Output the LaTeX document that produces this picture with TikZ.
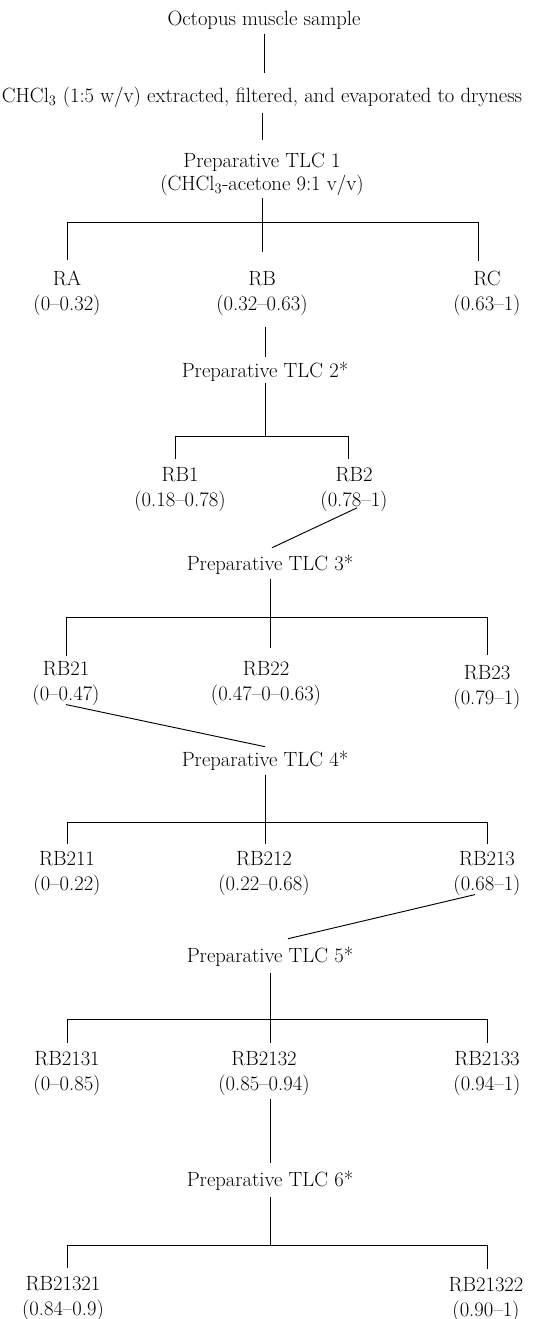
\documentclass[tikz,border=0pt]{standalone}
\usepackage{fontspec}
\usepackage{tikz}
\usetikzlibrary{positioning}

\tikzset{
  lbl/.style={align=center, anchor=base, inner sep=0pt, font=\fontsize{17.6}{21.3}\selectfont},
  link/.style={line width=0.8pt},
}

\begin{document}
\begin{tikzpicture}[x=0.03cm, y=-0.03cm]
    \useasboundingbox (0,0) rectangle (537,1319);

    % Extraction steps
    \node[lbl] (oct) at (264,26) {Octopus muscle sample};
    \node[lbl] (chcl) at (262,102) {CHCl\textsubscript{3} (1:5 w/v) extracted, filtered, and evaporated to dryness};
    \node[lbl] (tlc1) at (262,190) {Preparative TLC 1\\[-2.5pt](CHCl\textsubscript{3}-acetone 9:1 v/v)};

    % Fractions of TLC 1
    \node[lbl] (ra) at (67,310) {RA\\(0--0.32)};
    \node[lbl] (rb) at (262,310) {RB\\(0.32--0.63)};
    \node[lbl] (rc) at (487,310) {RC\\(0.63--1)};

    \node[lbl] (tlc2) at (265,377) {Preparative TLC 2*};
    \node[lbl] (rb1) at (180,506) {RB1\\(0.18--0.78)};
    \node[lbl] (rb2) at (354,506) {RB2\\(0.78--1)};

    \node[lbl] (tlc3) at (270,570) {Preparative TLC 3*};
    \node[lbl] (rb21) at (66,700) {RB21\\(0--0.47)};
    \node[lbl] (rb22) at (266,700) {RB22\\(0.47--0--0.63)};
    \node[lbl] (rb23) at (487,704) {RB23\\(0.79--1)};

    \node[lbl] (tlc4) at (265,766) {Preparative TLC 4*};
    \node[lbl] (rb211) at (67,890) {RB211\\(0--0.22)};
    \node[lbl] (rb212) at (264,890) {RB212\\(0.22--0.68)};
    \node[lbl] (rb213) at (487,890) {RB213\\(0.68--1)};

    \node[lbl] (tlc5) at (270,962) {Preparative TLC 5*};
    \node[lbl] (rb2131) at (67,1090) {RB2131\\(0--0.85)};
    \node[lbl] (rb2132) at (264,1090) {RB2132\\(0.85--0.94)};
    \node[lbl] (rb2133) at (487,1090) {RB2133\\(0.94--1)};

    \node[lbl] (tlc6) at (270,1186) {Preparative TLC 6*};
    \node[lbl] (rb21321) at (63,1315) {RB21321\\(0.84--0.9)};
    \node[lbl] (rb21322) at (486,1316) {RB21322\\(0.90--1)};

    % Bar ends
    \coordinate (b1l) at (67,222);   \coordinate (b1r) at (478,222);
    \coordinate (b2) at (265,436);
    \coordinate (b2l) at (175,436);  \coordinate (b2r) at (348,436);
    \coordinate (b3l) at (66,617);   \coordinate (b3r) at (487,617);
    \coordinate (b4l) at (67,822);   \coordinate (b4r) at (487,822);
    \coordinate (b5l) at (67,1019);  \coordinate (b5r) at (487,1019);
    \coordinate (b6) at (270,1245);
    \coordinate (b6l) at (67,1245);  \coordinate (b6r) at (487,1245);

    % Links
    \draw[link, shorten <=2.8pt, shorten >=11.4pt] (oct) -- (oct.south |- chcl.north);
    \draw[link, shorten <=4.5pt, shorten >=11.6pt] (chcl) -- (tlc1);
    \draw[link, shorten <=2.2pt, shorten >=16pt] (tlc1) -- (rb);
    \draw[link, shorten <=8.4pt, shorten >=8.4pt] (b1l |- ra.north) -- (b1l) -- (b1r) -- (b1r |- rc.north);

    \draw[link, shorten <=9.8pt, shorten >=4pt] (rb.south -| tlc2) -- (tlc2.north);
    \draw[link, shorten <=1.4pt] (tlc2) -- (b2);
    \draw[link, shorten <=6.7pt, shorten >=6.7pt] (b2l |- rb1.north) -- (b2l) -- (b2r) -- (b2r |- rb2.north);

    \draw[link] ([xshift=2.5pt, yshift=3pt]rb2.south) -- ([xshift=1.7pt, yshift=5.6pt]tlc3.north);
    \draw[link, shorten <=3.8pt, shorten >=11pt] (tlc3.south) -- (tlc3.south |- rb22.north);
    \draw[link, shorten <=4.1pt, shorten >=8.4pt] (b3l |- rb21.north) -- (b3l) -- (b3r) -- (b3r |- rb23.north);

    \draw[link] ([yshift=0.7pt]rb21.south) -- ([yshift=3.1pt]tlc4.north);
    \draw[link, shorten <=3.8pt, shorten >=5.8pt] (tlc4.south) -- (tlc4.south |- rb212.north);
    \draw[link, shorten <=5.8pt, shorten >=5.8pt] (b4l |- rb211.north) -- (b4l) -- (b4r) -- (b4r |- rb213.north);

    \draw[link] ([xshift=-10.2pt, yshift=0.7pt]rb213.south) -- ([xshift=15.4pt, yshift=6.5pt]tlc5.north);
    \draw[link, shorten <=5.5pt, shorten >=6.7pt] (tlc5.south) -- (tlc5.south |- rb2132.north);
    \draw[link, shorten <=6.7pt, shorten >=6.7pt] (b5l |- rb2131.north) -- (b5l) -- (b5r) -- (b5r |- rb2133.north);

    \draw[link, shorten <=3pt, shorten >=6.5pt] (rb2132.south -| tlc6) -- (tlc6.north);
    \draw[link, shorten <=5.6pt] (tlc6) -- (b6);
    \draw[link, shorten <=6.7pt, shorten >=6.7pt] (b6l |- rb21321.north) -- (b6l) -- (b6r) -- (b6r |- rb21322.north);
\end{tikzpicture}
\end{document}
